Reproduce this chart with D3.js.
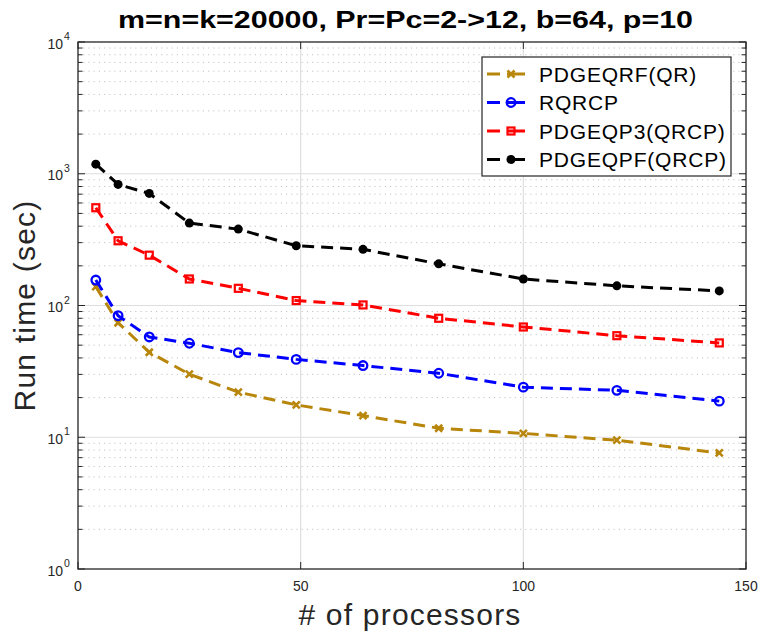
<!DOCTYPE html>
<html>
<head>
<meta charset="utf-8">
<script src="https://cdn.jsdelivr.net/npm/d3@7"></script>
<style>
  body { margin: 0; background: #fff; }
  svg { display: block; font-family: "Liberation Sans", Arial, sans-serif; }
</style>
</head>
<body>
<div id="chart"></div>
<script>
// data (run time in seconds)
var procs = [4, 9, 16, 25, 36, 49, 64, 81, 100, 121, 144];
var qrf  = [139, 74, 44.2, 30.1, 22, 17.6, 14.6, 11.7, 10.7, 9.5, 7.6];
var rqrcp = [156, 83.7, 57.7, 51.7, 43.9, 39, 35, 30.6, 24, 22.7, 18.8];
var qp3  = [552, 310, 241, 159, 135, 109, 101, 80, 68.7, 59, 52];
var qpf  = [1183, 830, 709, 422, 380, 284, 267, 207, 159, 141, 129];

var seriesNames = ["PDGEQRF(QR)", "RQRCP", "PDGEQP3(QRCP)", "PDGEQPF(QRCP)"];
var seriesColors = ["#b8860b", "#0000ff", "#ff0000", "#000000"];
var seriesMarkers = ["x", "circle", "square", "dot"];
var seriesValues = [qrf, rqrcp, qp3, qpf];

var xTicks = [0, 50, 100, 150];
var yDecades = [0, 1, 2, 3, 4];

var W = 759, H = 633;
var margin = { top: 42, right: 13, bottom: 64, left: 78 };
var width = W - margin.left - margin.right,
    height = H - margin.top - margin.bottom;

var svg = d3.select("#chart").append("svg")
    .attr("width", W).attr("height", H);

var g = svg.append("g")
    .attr("transform", "translate(" + margin.left + "," + margin.top + ")");

var x = d3.scaleLinear().domain([0, 150]).range([0, width]);
var y = d3.scaleLog().domain([1, 1e4]).range([height, 0]);

var axisColor = "#262626";

// minor grid (dotted) and minor ticks
var minors = [];
yDecades.slice(0, -1).forEach(function(e) {
    for (var m = 2; m <= 9; m++) minors.push(m * Math.pow(10, e));
});

g.selectAll(".minor-grid")
    .data(minors).enter().append("line")
    .attr("x1", 0).attr("x2", width)
    .attr("y1", function(d) { return y(d); })
    .attr("y2", function(d) { return y(d); })
    .attr("stroke", "#c4c4c4")
    .attr("stroke-width", 1)
    .attr("stroke-dasharray", "1.2,4");

// major grid
g.selectAll(".major-grid-y")
    .data(yDecades.slice(1, -1)).enter().append("line")
    .attr("x1", 0).attr("x2", width)
    .attr("y1", function(d) { return y(Math.pow(10, d)); })
    .attr("y2", function(d) { return y(Math.pow(10, d)); })
    .attr("stroke", "#dedede")
    .attr("stroke-width", 1.2);

g.selectAll(".major-grid-x")
    .data(xTicks.slice(1, -1)).enter().append("line")
    .attr("x1", function(d) { return x(d); })
    .attr("x2", function(d) { return x(d); })
    .attr("y1", 0).attr("y2", height)
    .attr("stroke", "#dedede")
    .attr("stroke-width", 1.2);

// ticks pointing inward on all four sides
[0, width].forEach(function(side) {
    var dir = side === 0 ? 1 : -1;
    g.selectAll(null).data(minors).enter().append("line")
        .attr("x1", side).attr("x2", side + dir * 4.5)
        .attr("y1", function(d) { return y(d); })
        .attr("y2", function(d) { return y(d); })
        .attr("stroke", axisColor).attr("stroke-width", 1);
    g.selectAll(null).data(yDecades).enter().append("line")
        .attr("x1", side).attr("x2", side + dir * 7)
        .attr("y1", function(d) { return y(Math.pow(10, d)); })
        .attr("y2", function(d) { return y(Math.pow(10, d)); })
        .attr("stroke", axisColor).attr("stroke-width", 1);
});
[0, height].forEach(function(side) {
    var dir = side === 0 ? 1 : -1;
    g.selectAll(null).data(xTicks).enter().append("line")
        .attr("x1", function(d) { return x(d); })
        .attr("x2", function(d) { return x(d); })
        .attr("y1", side).attr("y2", side + dir * 7)
        .attr("stroke", axisColor).attr("stroke-width", 1);
});

// box
g.append("rect")
    .attr("x", 0).attr("y", 0)
    .attr("width", width).attr("height", height)
    .attr("fill", "none")
    .attr("stroke", axisColor)
    .attr("stroke-width", 1.3);

// tick labels
g.selectAll(".xlab").data(xTicks).enter().append("text")
    .attr("x", function(d) { return x(d); })
    .attr("y", height + 22)
    .attr("text-anchor", "middle")
    .attr("font-size", 14)
    .attr("fill", axisColor)
    .text(function(d) { return d; });

var ylab = g.selectAll(".ylab").data(yDecades).enter().append("g")
    .attr("transform", function(d) { return "translate(0," + y(Math.pow(10, d)) + ")"; });
ylab.append("text")
    .attr("x", -15).attr("y", 6.5)
    .attr("text-anchor", "end")
    .attr("font-size", 14)
    .attr("fill", axisColor)
    .text("10");
ylab.append("text")
    .attr("x", -14).attr("y", -2)
    .attr("font-size", 10.5)
    .attr("fill", axisColor)
    .text(function(d) { return d; });

// axis titles
svg.append("text")
    .attr("x", 410).attr("y", 625)
    .attr("text-anchor", "middle")
    .attr("font-size", 30)
    .attr("letter-spacing", 1.2)
    .attr("fill", axisColor)
    .text("# of processors");

svg.append("text")
    .attr("transform", "translate(35," + (margin.top + height / 2) + ") rotate(-90)")
    .attr("text-anchor", "middle")
    .attr("font-size", 30)
    .attr("letter-spacing", 1.2)
    .attr("fill", axisColor)
    .text("Run time (sec)");

svg.append("text")
    .attr("x", 118).attr("y", 28)
    .attr("font-size", 23)
    .attr("font-weight", "bold")
    .attr("textLength", 575)
    .attr("lengthAdjust", "spacingAndGlyphs")
    .attr("fill", "#000")
    .text("m=n=k=20000, Pr=Pc=2->12, b=64, p=10");

// markers
function drawMarker(sel, type, color) {
    if (type === "x") {
        sel.append("path")
            .attr("d", "M-3.5,-3.5L3.5,3.5M-3.5,3.5L3.5,-3.5")
            .attr("stroke", color).attr("stroke-width", 2.6).attr("fill", "none");
    } else if (type === "circle") {
        sel.append("circle").attr("r", 4.3)
            .attr("stroke", color).attr("stroke-width", 2.3).attr("fill", "none");
    } else if (type === "square") {
        sel.append("rect").attr("x", -3.5).attr("y", -3.5)
            .attr("width", 7).attr("height", 7)
            .attr("stroke", color).attr("stroke-width", 2.2).attr("fill", "none");
    } else {
        sel.append("circle").attr("r", 4.5).attr("fill", color);
    }
}

var line = d3.line()
    .x(function(d) { return x(d[0]); })
    .y(function(d) { return y(d[1]); });

seriesValues.forEach(function(vals, i) {
    var pts = procs.map(function(p, j) { return [p, vals[j]]; });
    g.append("path")
        .datum(pts)
        .attr("d", line)
        .attr("fill", "none")
        .attr("stroke", seriesColors[i])
        .attr("stroke-width", 3)
        .attr("stroke-dasharray", "12,7");
    g.selectAll(null).data(pts).enter().append("g")
        .attr("transform", function(d) { return "translate(" + x(d[0]) + "," + y(d[1]) + ")"; })
        .each(function() { drawMarker(d3.select(this), seriesMarkers[i], seriesColors[i]); });
});

// legend
var legend = svg.append("g").attr("transform", "translate(482,57)");
legend.append("rect")
    .attr("width", 249).attr("height", 119)
    .attr("fill", "#fff")
    .attr("stroke", "#262626")
    .attr("stroke-width", 1.2);

seriesNames.forEach(function(name, i) {
    var row = legend.append("g").attr("transform", "translate(0," + (17 + i * 28.5) + ")");
    row.append("line")
        .attr("x1", 5).attr("x2", 43)
        .attr("stroke", seriesColors[i])
        .attr("stroke-width", 3)
        .attr("stroke-dasharray", "13,7,20");
    drawMarker(row.append("g").attr("transform", "translate(29,0)"), seriesMarkers[i], seriesColors[i]);
    row.append("text")
        .attr("x", 57).attr("y", 7.5)
        .attr("font-size", 21)
        .attr("letter-spacing", 0.8)
        .attr("fill", "#000")
        .text(name);
});
</script>
</body>
</html>
